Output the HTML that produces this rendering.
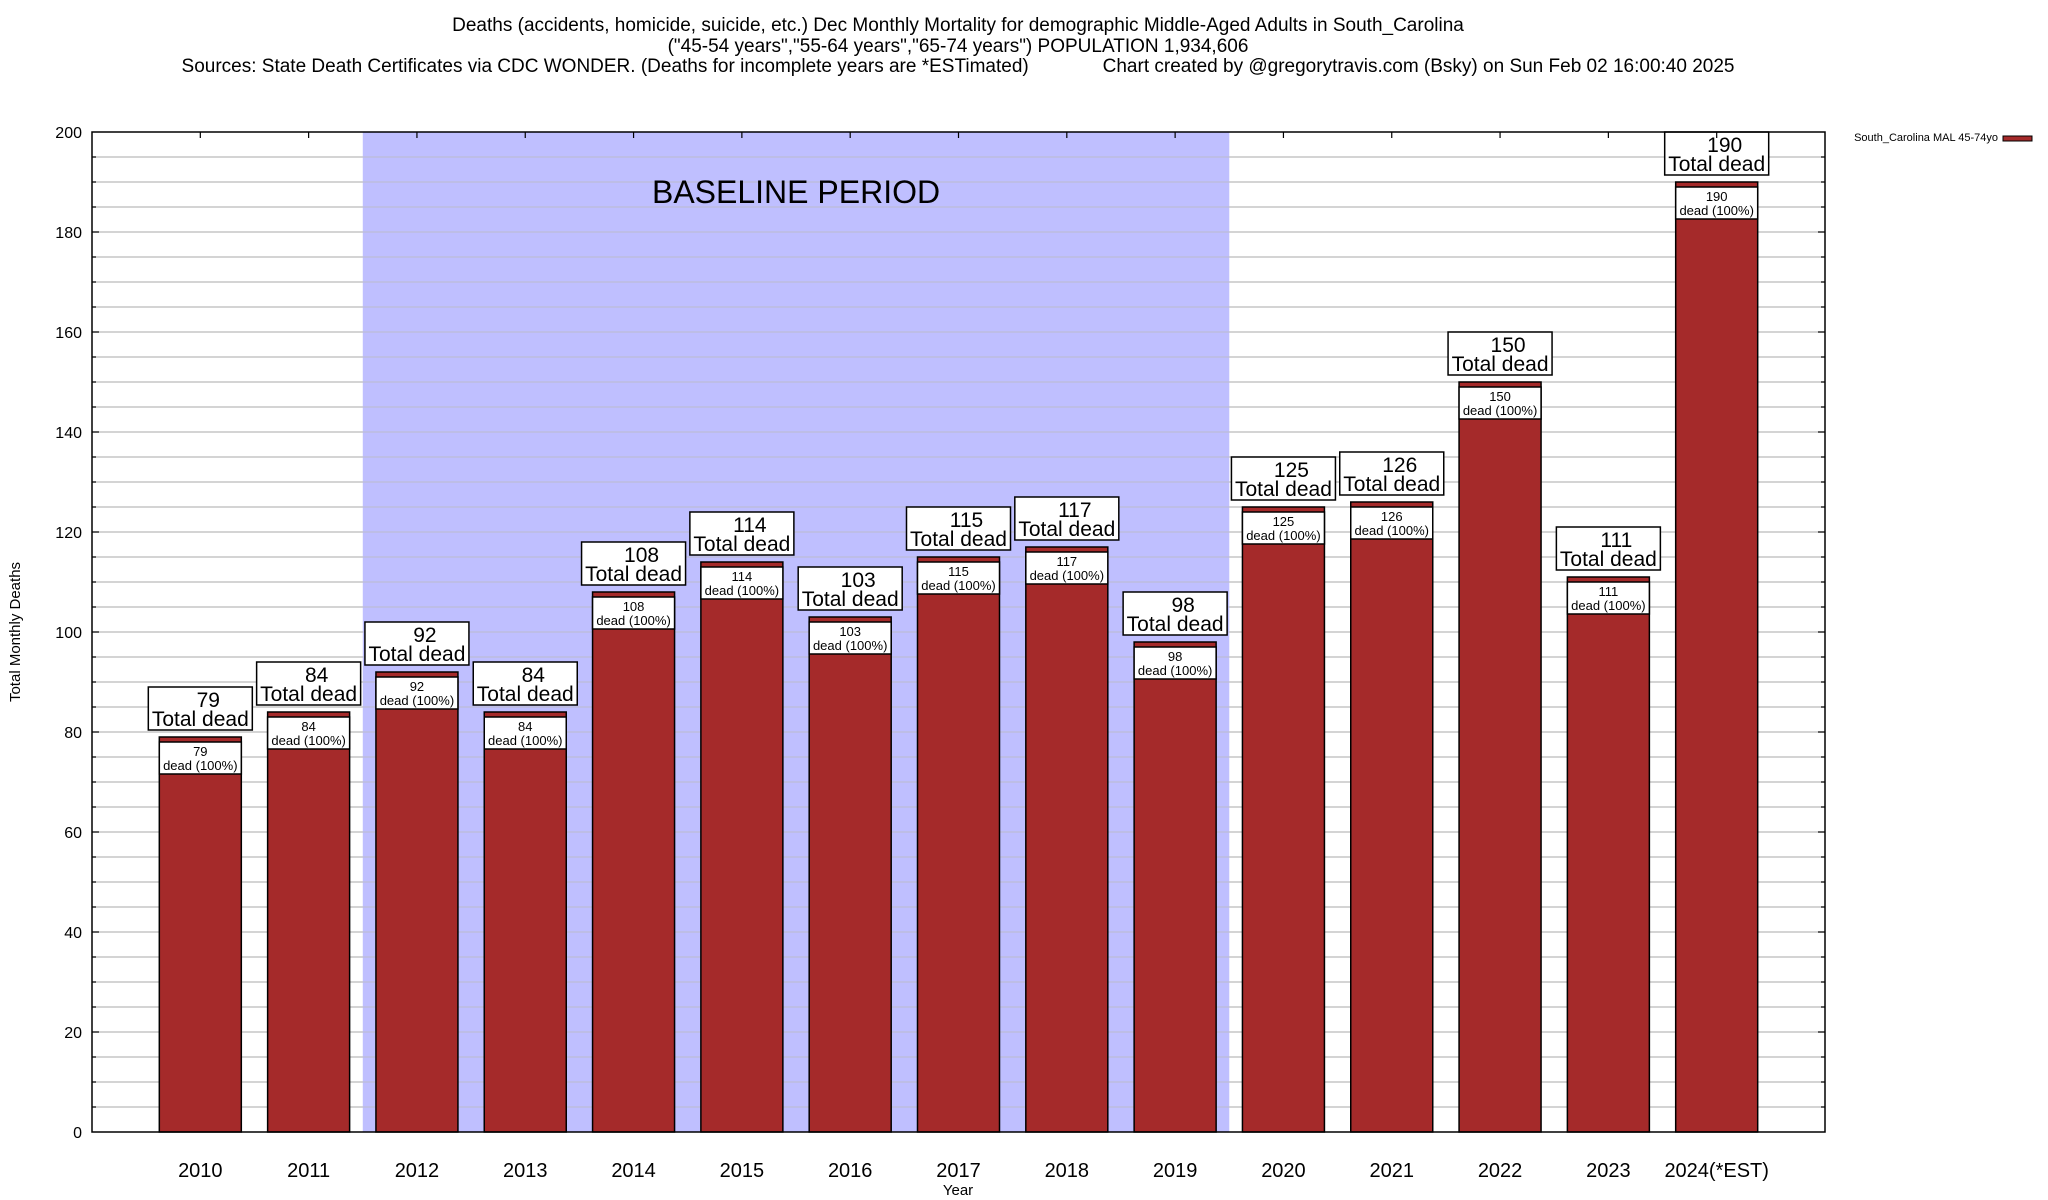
<!DOCTYPE html>
<html><head><meta charset="utf-8"><style>
html,body{margin:0;padding:0;background:#fff;}
svg{display:block;font-family:"Liberation Sans",sans-serif;}
</style></head><body>
<svg id="chart" width="2048" height="1200" viewBox="0 0 2048 1200" xmlns="http://www.w3.org/2000/svg">
<g font-size="19" text-anchor="middle" fill="#000">
<text x="958" y="31">Deaths (accidents, homicide, suicide, etc.) Dec Monthly Mortality for demographic Middle-Aged Adults in South_Carolina</text>
<text x="958" y="52">("45-54 years","55-64 years","65-74 years") POPULATION 1,934,606</text>
<text x="958" y="72" xml:space="preserve">Sources: State Death Certificates via CDC WONDER. (Deaths for incomplete years are *ESTimated)              Chart created by @gregorytravis.com (Bsky) on Sun Feb 02 16:00:40 2025</text>
</g>
<g id="grid"></g>
<g id="baseline"></g>
<g id="bars"></g>
<g id="axes"></g>
<text x="0" y="0" font-size="15" text-anchor="middle" transform="translate(20,632) rotate(-90)">Total Monthly Deaths</text>
<text x="958" y="1195" font-size="15" text-anchor="middle">Year</text>
<g>
<text x="1998" y="141" font-size="11" text-anchor="end">South_Carolina MAL 45-74yo</text>
<rect x="2003" y="136" width="29" height="5" fill="#a52a2a" stroke="#000" stroke-width="1"/>
</g>
</svg>
<script>
const categories = ["2010","2011","2012","2013","2014","2015","2016","2017","2018","2019","2020","2021","2022","2023","2024(*EST)"];
const values = [79,84,92,84,108,114,103,115,117,98,125,126,150,111,190];
const yTicks = [0,20,40,60,80,100,120,140,160,180,200];
const baselineRange = [2, 9];

const NS = "http://www.w3.org/2000/svg";
const L = 92, R = 1825, T = 132, B = 1132;
const yMax = 200;
function y(v){ return B - (v / yMax) * (B - T); }
function x(i){ return L + ((i + 1) / (categories.length + 1)) * (R - L); }
const step = (R - L) / (categories.length + 1);
const barW = 82;
function mk(tag, attrs, parent){
  const e = document.createElementNS(NS, tag);
  for (const k in attrs) e.setAttribute(k, attrs[k]);
  parent.appendChild(e);
  return e;
}
const grid = document.getElementById('grid');
const base = document.getElementById('baseline');
const bars = document.getElementById('bars');
const axes = document.getElementById('axes');

for (let v = 5; v < yMax; v += 5) {
  const g = mk('line', {x1:L, x2:R, y1:y(v), y2:y(v), stroke:'#bbb', 'stroke-width':1.2}, grid);
  
  
}
const bx1 = x(baselineRange[0]) - step/2, bx2 = x(baselineRange[1]) + step/2;
const br = mk('rect', {x:bx1, y:T, width:bx2-bx1, height:B-T, fill:'#bfbfff'}, base);


for (let v = 5; v < yMax; v += 5) {
  mk('line', {x1:bx1, x2:bx2, y1:y(v), y2:y(v), stroke:'#bbb', 'stroke-width':1.2, opacity:0.6}, base);
}
const bt = mk('text', {x:(bx1+bx2)/2, y:203, 'font-size':32, 'text-anchor':'middle'}, base);
bt.textContent = 'BASELINE PERIOD';



values.forEach((v, i) => {
  const cx = x(i), top = y(v);
  const g = mk('g', {}, bars);
  
  
  mk('rect', {x:cx-barW/2, y:top, width:barW, height:B-top, fill:'#a52a2a', stroke:'#000', 'stroke-width':1.5}, g);
  mk('rect', {x:cx-barW/2, y:top+5, width:barW, height:32, fill:'#fff', stroke:'#000', 'stroke-width':1.5}, g);
  const t1 = mk('text', {x:cx, y:top+19, 'font-size':13, 'text-anchor':'middle'}, g);
  t1.textContent = String(v);
  const t2 = mk('text', {x:cx, y:top+33, 'font-size':13, 'text-anchor':'middle'}, g);
  t2.textContent = 'dead (100%)';
  const lb = mk('g', {}, g);
  
  
  mk('rect', {x:cx-52, y:top-50, width:104, height:43, fill:'#fff', stroke:'#000', 'stroke-width':1.5}, lb);
  const a = mk('text', {x:cx+8, y:top-30, 'font-size':21, 'text-anchor':'middle'}, lb);
  a.textContent = String(v);
  const b = mk('text', {x:cx, y:top-11, 'font-size':21, 'text-anchor':'middle'}, lb);
  b.textContent = 'Total dead';
  const xl = mk('text', {x:cx, y:1177, 'font-size':20, 'text-anchor':'middle'}, axes);
  xl.textContent = categories[i];
  
  
  mk('line', {x1:cx, x2:cx, y1:T, y2:T+6, stroke:'#000', 'stroke-width':1.2}, axes);
});

const frame = mk('rect', {x:L, y:T, width:R-L, height:B-T, fill:'none', stroke:'#000', 'stroke-width':1.5}, axes);


for (let v = 5; v < yMax; v += 5) {
  const len = (v % 20 === 0) ? 7 : 4;
  mk('line', {x1:L, x2:L+len, y1:y(v), y2:y(v), stroke:'#000', 'stroke-width':1.2}, axes);
  mk('line', {x1:R-len, x2:R, y1:y(v), y2:y(v), stroke:'#000', 'stroke-width':1.2}, axes);
}
yTicks.forEach(t => {
  const tl = mk('text', {x:82, y:y(t)+6, 'font-size':16, 'text-anchor':'end'}, axes);
  tl.textContent = String(t);
  
  
});
</script>
</body></html>
